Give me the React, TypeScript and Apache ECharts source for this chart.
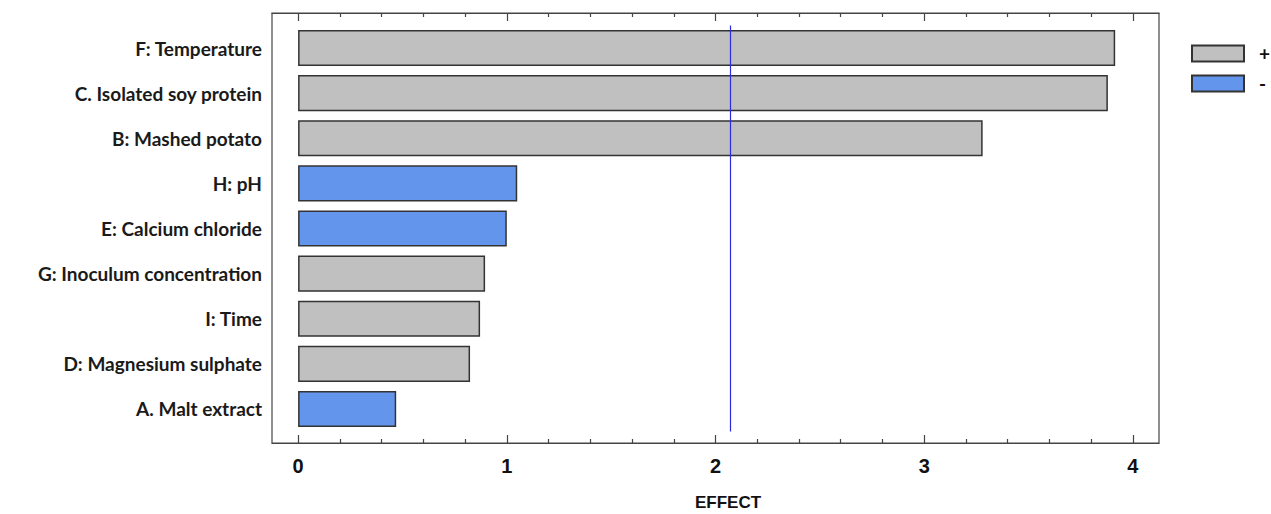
import React, { useEffect, useRef } from "react";
import * as echarts from "echarts";

const categories = [
  "F: Temperature",
  "C. Isolated soy protein",
  "B: Mashed potato",
  "H: pH",
  "E: Calcium chloride",
  "G: Inoculum concentration",
  "I: Time",
  "D: Magnesium sulphate",
  "A. Malt extract",
];
const effects = [3.915, 3.88, 3.28, 1.05, 1.0, 0.896, 0.872, 0.824, 0.47];
const signs = ["+", "+", "+", "-", "-", "+", "+", "+", "-"];
const referenceEffect = 2.07;
const majorTicks = [0, 1, 2, 3, 4];
const minorTicks = [
  0.2, 0.4, 0.6, 0.8, 1.2, 1.4, 1.6, 1.8, 2.2, 2.4, 2.6, 2.8, 3.2, 3.4, 3.6, 3.8,
];
const xMin = -0.125;
const xMax = 4.125;

const FONT = "Lato, 'Noto Sans', sans-serif";
const NARROW = "'Liberation Sans Narrow', 'Liberation Sans', Lato, sans-serif";

export default function App() {
  const ref = useRef<HTMLDivElement>(null);
  useEffect(() => {
    if (!ref.current) return;
    const chart = echarts.init(ref.current, undefined, { renderer: "svg" });
    const plusData = effects.map((v, i) => (signs[i] === "+" ? v : null));
    const minusData = effects.map((v, i) => (signs[i] === "-" ? v : null));
    const frameColor = "#444";
    const tickAxis = (position: string, values: number[], len: number, labels: boolean, line: boolean) => ({
      type: "value",
      gridIndex: 0,
      position,
      min: xMin,
      max: xMax,
      axisLine: { show: line, onZero: false, lineStyle: { color: frameColor, width: 1.2 } },
      axisTick: { show: true, inside: true, length: len, customValues: values, lineStyle: { color: frameColor, width: 1.2 } },
      axisLabel: labels
        ? { show: true, customValues: values, margin: 13, fontFamily: NARROW, fontWeight: "bold", fontSize: 20, color: "#111" }
        : { show: false },
      splitLine: { show: false },
    });
    chart.setOption({
      animation: false,
      backgroundColor: "#fff",
      grid: [
        { left: 272, right: 112, top: 13, bottom: 71, show: true, borderColor: frameColor, borderWidth: 1.2, backgroundColor: "transparent" },
        { left: 272, right: 112, top: 25.5, bottom: 82.5 },
      ],
      xAxis: [
        tickAxis("bottom", majorTicks, 8, true, true),
        tickAxis("bottom", minorTicks, 4, false, false),
        { type: "value", gridIndex: 1, min: xMin, max: xMax, show: false },
        tickAxis("top", majorTicks, 8, false, true),
        tickAxis("top", minorTicks, 4, false, false),
      ],
      yAxis: [
        { type: "value", gridIndex: 0, show: false },
        {
          type: "category",
          gridIndex: 1,
          data: categories,
          inverse: true,
          axisLine: { show: false },
          axisTick: { show: false },
          axisLabel: { margin: 10, fontFamily: FONT, fontWeight: "bold", fontSize: 19, color: "#1a1a1a" },
        },
      ],
      legend: {
        data: ["+", "-"],
        orient: "vertical",
        left: 1191,
        top: 44,
        padding: 0,
        itemWidth: 52,
        itemHeight: 16,
        itemGap: 11,
        icon: "rect",
        textStyle: { fontFamily: FONT, fontWeight: "bold", fontSize: 19, color: "#111", padding: [0, 0, 0, 10] },
      },
      graphic: [
        {
          type: "text",
          x: 728,
          y: 494,
          style: { text: "EFFECT", align: "center", fontFamily: NARROW, fontWeight: "bold", fontSize: 17, fill: "#111" },
        },
      ],
      series: [
        {
          name: "+",
          type: "bar",
          xAxisIndex: 2,
          yAxisIndex: 1,
          stack: "effect",
          barWidth: "80%",
          data: plusData,
          itemStyle: { color: "#c0c0c0", borderColor: "#333", borderWidth: 1.5 },
          markLine: {
            silent: true,
            symbol: "none",
            label: { show: false },
            lineStyle: { color: "#2b2be0", width: 1.2, type: "solid" },
            data: [{ xAxis: referenceEffect }],
          },
        },
        {
          name: "-",
          type: "bar",
          xAxisIndex: 2,
          yAxisIndex: 1,
          stack: "effect",
          barWidth: "80%",
          data: minusData,
          itemStyle: { color: "#6495ed", borderColor: "#333", borderWidth: 1.5 },
        },
      ],
    });
    return () => chart.dispose();
  }, []);
  return <div ref={ref} style={{ position: "fixed", left: 0, top: 0, width: 1271, height: 514 }} />;
}
